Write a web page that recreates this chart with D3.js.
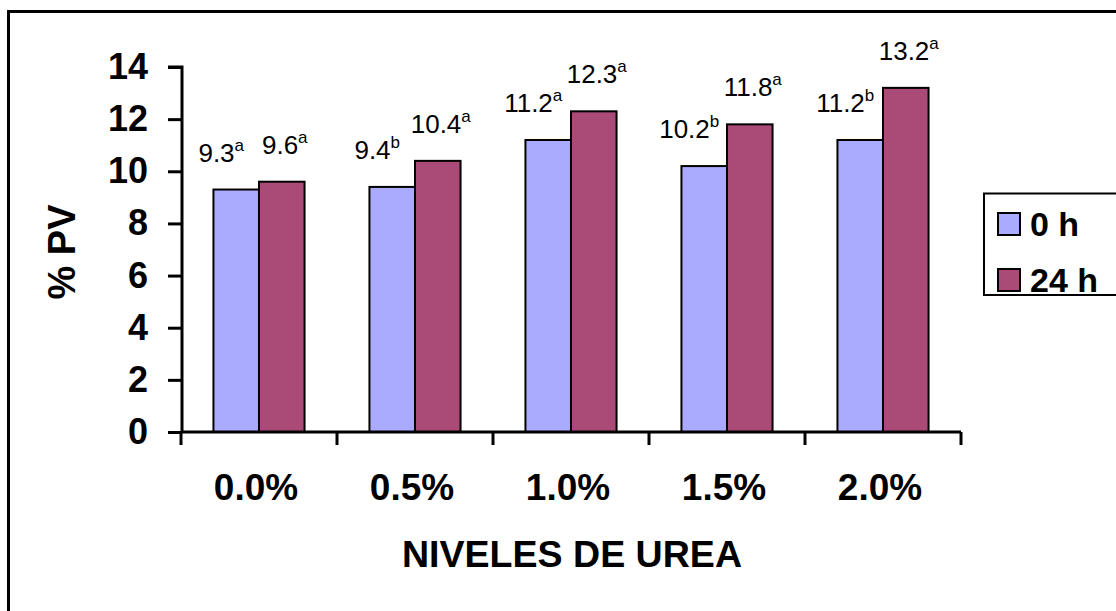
<!DOCTYPE html>
<html>
<head>
<meta charset="utf-8">
<script src="https://cdn.jsdelivr.net/npm/d3@7"></script>
<style>
  html, body { margin: 0; padding: 0; background: #fff; }
  svg { display: block; font-family: "Liberation Sans", Arial, sans-serif; }
</style>
</head>
<body>
<svg id="chart" width="1116" height="611"></svg>
<script>
// Urea levels on the x axis
const categories = ["0.0%", "0.5%", "1.0%", "1.5%", "2.0%"];
// % PV at 0 h and 24 h
const series = ["0 h", "24 h"];
const values0h = [9.3, 9.4, 11.2, 10.2, 11.2];
const values24h = [9.6, 10.4, 12.3, 11.8, 13.2];
// significance letters for each value
const letters0h = ["a", "b", "a", "b", "b"];
const letters24h = ["a", "a", "a", "a", "a"];
const yTicks = [0, 2, 4, 6, 8, 10, 12, 14];

const colors = ["#AAAAFF", "#AA4A77"];
const svg = d3.select("#chart");

// outer frame (runs off the right and bottom edges)
svg.append("rect")
  .attr("x", 8.5).attr("y", 11.5)
  .attr("width", 1200).attr("height", 700)
  .attr("fill", "none").attr("stroke", "#000").attr("stroke-width", 3);

const plot = { left: 181, right: 961, top: 67, bottom: 432 };

const x = d3.scaleBand().domain(categories)
  .range([plot.left, plot.right]).paddingInner(0.416).paddingOuter(0.208);
const xInner = d3.scaleBand().domain(series).range([0, x.bandwidth()]);
const y = d3.scaleLinear().domain([0, 14]).range([plot.bottom, plot.top]);

const rows = categories.map((c, i) => ({
  cat: c,
  vals: [
    { s: series[0], v: values0h[i], l: letters0h[i], k: 0 },
    { s: series[1], v: values24h[i], l: letters24h[i], k: 1 }
  ]
}));

// bars
const groups = svg.append("g").selectAll("g").data(rows).join("g")
  .attr("transform", d => `translate(${x(d.cat)},0)`);

groups.selectAll("rect").data(d => d.vals).join("rect")
  .attr("x", d => xInner(d.s))
  .attr("y", d => y(d.v))
  .attr("width", xInner.bandwidth())
  .attr("height", d => y(0) - y(d.v))
  .attr("fill", d => colors[d.k])
  .attr("stroke", "#000").attr("stroke-width", 2);

// value labels with superscript letters
const labelShift = [-15, 3];
const labels = groups.selectAll("text").data(d => d.vals).join("text")
  .attr("x", d => xInner(d.s) + xInner.bandwidth() / 2 + labelShift[d.k])
  .attr("y", d => y(d.v) - 28)
  .attr("text-anchor", "middle")
  .attr("font-size", 26)
  .attr("fill", "#000");
labels.append("tspan").text(d => d.v.toFixed(1));
labels.append("tspan").attr("font-size", 17).attr("dy", -11).text(d => d.l);

// y axis
const yAxis = svg.append("g").attr("transform", `translate(${plot.left + 1},0)`)
  .call(d3.axisLeft(y).tickValues(yTicks).tickSize(14).tickPadding(20).tickFormat(d3.format("d")));
yAxis.select(".domain").attr("stroke-width", 3).attr("d", `M-14,${y(14)}H0V${y(0)}`);
yAxis.selectAll(".tick line").attr("stroke-width", 3);
yAxis.selectAll(".tick text")
  .attr("font-size", 36).attr("font-weight", "bold")
  .attr("font-family", "'Liberation Sans', Arial, sans-serif").attr("fill", "#000");

// x axis with ticks at category boundaries
const xAxisG = svg.append("g").attr("transform", `translate(0,${plot.bottom})`);
xAxisG.append("line")
  .attr("x1", plot.left).attr("x2", plot.right)
  .attr("stroke", "#000").attr("stroke-width", 3);
const bounds = d3.range(categories.length + 1)
  .map(i => plot.left + i * x.step());
xAxisG.selectAll(".bt").data(bounds).join("line")
  .attr("x1", d => d).attr("x2", d => d)
  .attr("y1", 0).attr("y2", 13)
  .attr("stroke", "#000").attr("stroke-width", 3);
xAxisG.selectAll("text").data(categories).join("text")
  .attr("x", d => x(d) + x.bandwidth() / 2 - 3)
  .attr("y", 68)
  .attr("text-anchor", "middle")
  .attr("font-size", 37).attr("font-weight", "bold")
  .text(d => d);

// axis titles
svg.append("text")
  .attr("x", 572).attr("y", 567)
  .attr("text-anchor", "middle")
  .attr("font-size", 37).attr("font-weight", "bold")
  .attr("textLength", 340).attr("lengthAdjust", "spacingAndGlyphs")
  .text("NIVELES DE UREA");

svg.append("text")
  .attr("transform", "translate(75,252) rotate(-90)")
  .attr("text-anchor", "middle")
  .attr("font-size", 38).attr("font-weight", "bold")
  .text("% PV");

// legend
const legend = svg.append("g");
legend.append("rect")
  .attr("x", 984).attr("y", 193.5).attr("width", 200).attr("height", 101.5)
  .attr("fill", "#fff").attr("stroke", "#000").attr("stroke-width", 2);
const items = legend.selectAll("g.item").data(series).join("g").attr("class", "item")
  .attr("transform", (d, i) => `translate(998,${213 + i * 56})`);
items.append("rect")
  .attr("width", 22).attr("height", 22)
  .attr("fill", (d, i) => colors[i])
  .attr("stroke", "#000").attr("stroke-width", 2);
items.append("text")
  .attr("x", 32).attr("y", 23)
  .attr("font-size", 34).attr("font-weight", "bold")
  .text(d => d);
</script>
</body>
</html>
